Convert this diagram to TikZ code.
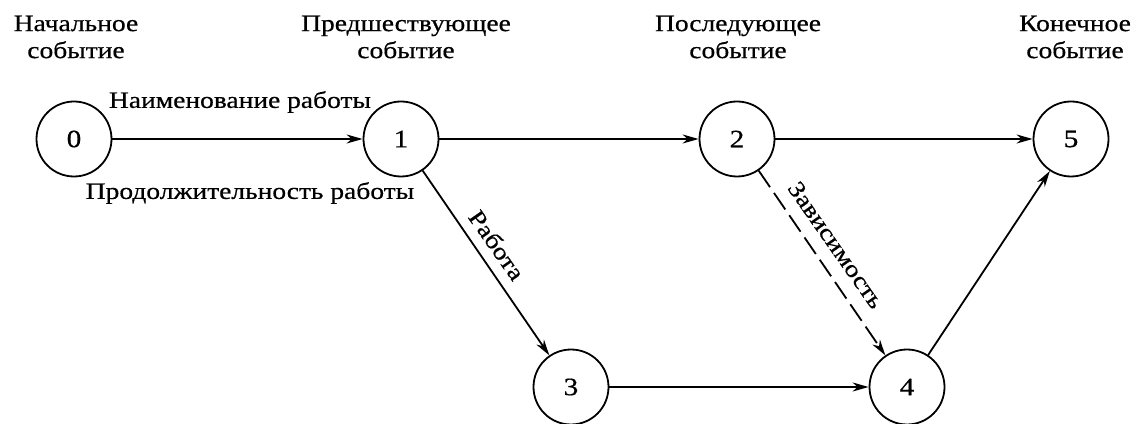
\documentclass[tikz,border=0pt]{standalone}
\usepackage{fontspec}
\setmainfont[FakeStretch=1.17,FakeBold=0.6]{Liberation Serif}
\usetikzlibrary{arrows.meta}
\begin{document}
\begin{tikzpicture}[x=1pt,y=1pt,
  ev/.style={circle,draw,line width=1.8pt,minimum size=75pt,inner sep=0pt,font=\fontsize{25}{26}\selectfont},
  hd/.style={align=center,font=\fontsize{23.5}{27}\selectfont},
  lb/.style={font=\fontsize{23.5}{26}\selectfont,inner sep=1pt},
  ar/.style={line width=1.8pt,-{Stealth[length=16pt,width=9pt,inset=5pt]}},
  dep/.style={ar,dash pattern=on 20pt off 7pt}]
\useasboundingbox (0,0) rectangle (1134,423);
\node[ev] (n0) at (74,284) {0};
\node[ev] (n1) at (401,284) {1};
\node[ev] (n2) at (737,284) {2};
\node[ev] (n5) at (1071,284) {5};
\node[ev] (n3) at (571,36) {3};
\node[ev] (n4) at (907,36) {4};
\node[hd] at (76,386) {Начальное\\событие};
\node[hd] at (406,386) {Предшествующее\\событие};
\node[hd] at (738,386) {Последующее\\событие};
\node[hd] at (1075,386) {Конечное\\событие};
\draw[ar] (n0) -- (n1);
\draw[ar] (n1) -- (n2);
\draw[ar] (n2) -- (n5);
\draw[ar] (n1) -- (n3);
\draw[ar] (n3) -- (n4);
\draw[ar] (n4) -- (n5);
\draw[dep] (n2) -- (n4);
\node[lb] (t1) at (240,321) {Наименование работы};
\node[lb] (t2) at (250,230) {Продолжительность работы};
\node[lb,rotate=-55] (t3) at (497,178) {Работа};
\node[lb,rotate=-55] (t4) at (836,178) {Зависимость};
\end{tikzpicture}
\end{document}
